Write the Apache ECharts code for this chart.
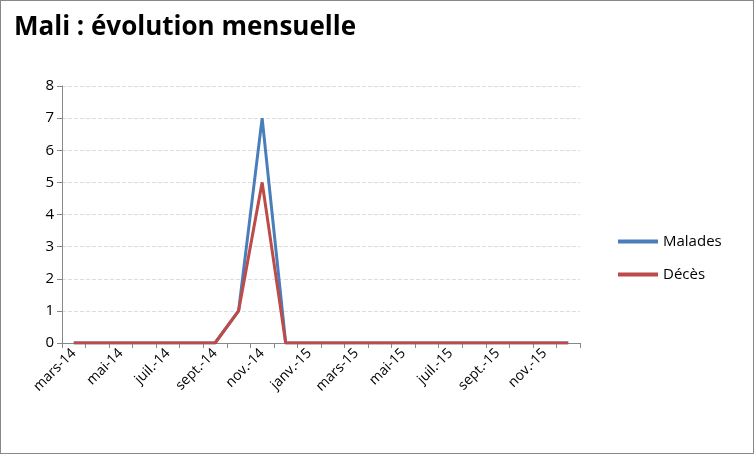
<!DOCTYPE html>
<html><head><meta charset="utf-8">
<script src="https://cdn.jsdelivr.net/npm/echarts@6/dist/echarts.min.js"></script>
<style>html,body{margin:0;padding:0;background:#fff}#c{width:754px;height:454px;box-sizing:border-box;border:1px solid #888}</style>
</head><body><div id="c"></div>
<script>
var categories=["mars-14","avr.-14","mai-14","juin-14","juil.-14","août-14","sept.-14","oct.-14","nov.-14","déc.-14","janv.-15","févr.-15","mars-15","avr.-15","mai-15","juin-15","juil.-15","août-15","sept.-15","oct.-15","nov.-15","déc.-15"];
var malades=[0,0,0,0,0,0,0,1,7,0,0,0,0,0,0,0,0,0,0,0,0,0];
var deces=[0,0,0,0,0,0,0,1,5,0,0,0,0,0,0,0,0,0,0,0,0,0];
var chart=echarts.init(document.getElementById('c'));
chart.setOption({
 animation:false,
 title:{text:'Mali : évolution mensuelle',left:8,top:9,textStyle:{fontFamily:'Open Sans',fontSize:26,fontWeight:'bold',color:'#000'}},
 legend:{orient:'vertical',left:612,top:228,itemGap:18,itemWidth:40,itemHeight:4,icon:'rect',textStyle:{fontFamily:'Open Sans',fontSize:15,color:'#000'},data:['Malades','Décès']},
 grid:{left:61,top:85,width:518,height:257},
 xAxis:{type:'category',data:categories,boundaryGap:true,
  axisLine:{lineStyle:{color:'#888'}},axisTick:{show:true,interval:0,lineStyle:{color:'#888'}},
  axisLabel:{interval:1,rotate:45,fontFamily:'Open Sans',fontSize:14,color:'#000',margin:8}},
 yAxis:{type:'value',min:0,max:8,interval:1,
  axisLine:{show:true,lineStyle:{color:'#888'}},axisTick:{show:true,lineStyle:{color:'#888'}},
  axisLabel:{fontFamily:'Open Sans',fontSize:15,color:'#000'},
  splitLine:{lineStyle:{color:'#ddd',type:'dashed'}}},
 series:[
  {name:'Malades',type:'line',data:malades,symbol:'none',lineStyle:{width:3,color:'#4a7ebb'},itemStyle:{color:'#4a7ebb'}},
  {name:'Décès',type:'line',data:deces,symbol:'none',lineStyle:{width:3,color:'#be4b48'},itemStyle:{color:'#be4b48'}}
 ]
});
</script></body></html>
